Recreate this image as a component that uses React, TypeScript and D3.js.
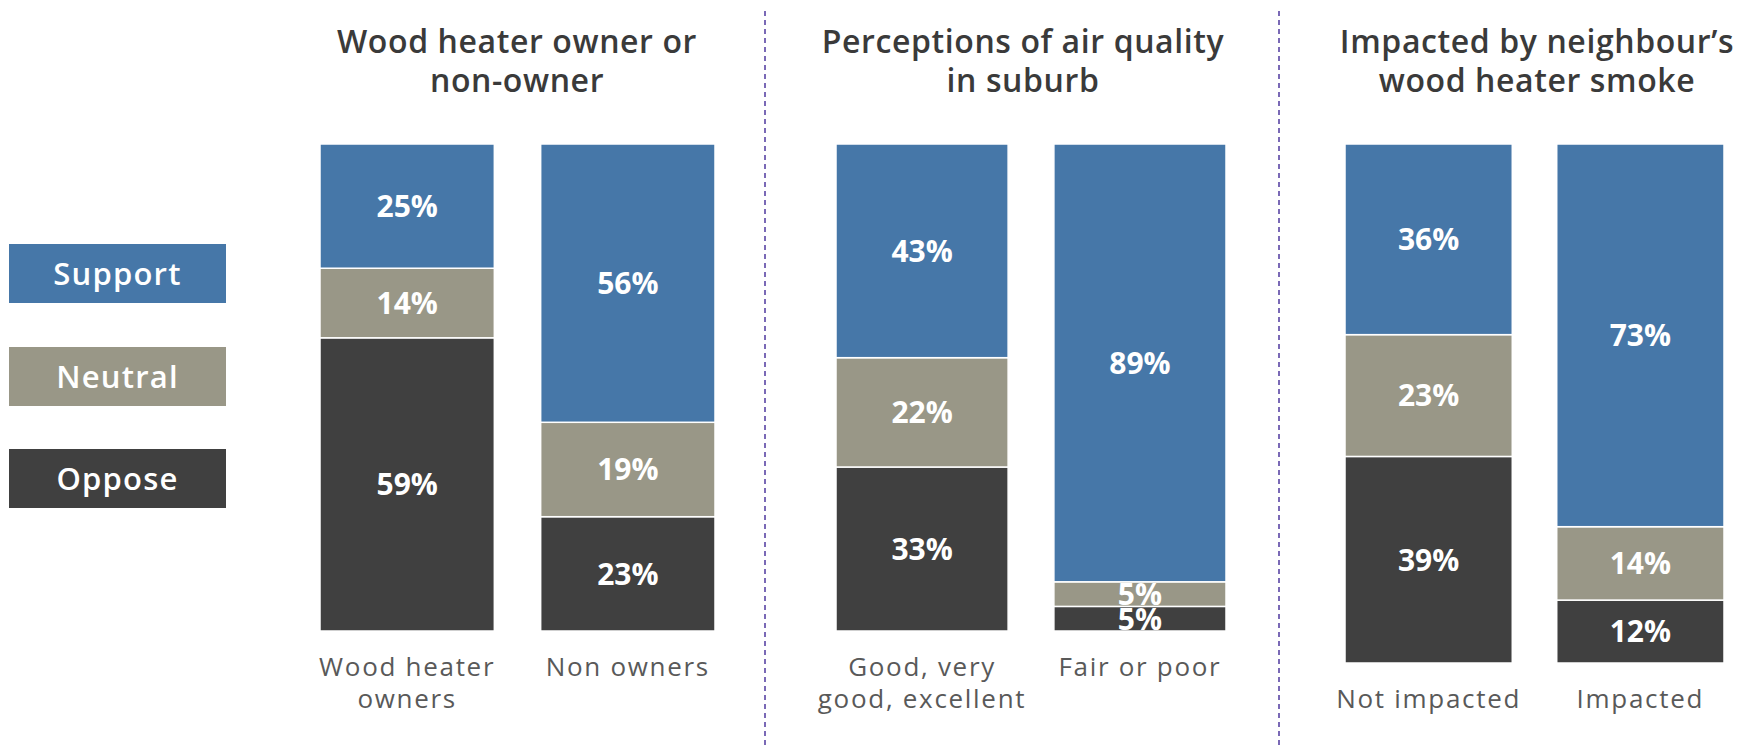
import React from "react";
import * as d3 from "d3";

const seriesNames = ["Support", "Neutral", "Oppose"];
const panelTitles = [
  ["Wood heater owner or", "non-owner"],
  ["Perceptions of air quality", "in suburb"],
  ["Impacted by neighbour’s", "wood heater smoke"],
];
const categories = [
  ["Wood heater owners", "Non owners"],
  ["Good, very good, excellent", "Fair or poor"],
  ["Not impacted", "Impacted"],
];
const categoryLines = [
  [["Wood heater", "owners"], ["Non owners"]],
  [["Good, very", "good, excellent"], ["Fair or poor"]],
  [["Not impacted"], ["Impacted"]],
];
const supportValues = [[25, 56], [43, 89], [36, 73]];
const neutralValues = [[14, 19], [22, 5], [23, 14]];
const opposeValues = [[59, 23], [33, 5], [39, 12]];

const COLORS: Record<string, string> = {
  Support: "#4677a8",
  Neutral: "#999787",
  Oppose: "#404040",
};

const W = 1761;
const H = 745;
const panels = [
  { x0: 320, x1: 715, top: 144, bottom: 631, titleX: 517 },
  { x0: 836, x1: 1226, top: 144, bottom: 631, titleX: 1023 },
  { x0: 1345, x1: 1724, top: 144, bottom: 663, titleX: 1537 },
];
const dividers = [765, 1279];
const legendY = [244, 347, 449];

const font = "'Open Sans', sans-serif";

export default function App() {
  return (
    <svg
      width={W}
      height={H}
      style={{ position: "absolute", left: 0, top: 0, background: "#fff" }}
    >
      {dividers.map((x, i) => (
        <line
          key={i}
          x1={x}
          x2={x}
          y1={11}
          y2={H}
          stroke="#7a69b6"
          strokeWidth={2}
          strokeDasharray="5 4"
        />
      ))}
      {seriesNames.map((s, i) => (
        <g key={s}>
          <rect x={9} y={legendY[i]} width={217} height={59} fill={COLORS[s]} />
          <text
            x={117.5}
            y={legendY[i] + 29.5}
            dy="0.36em"
            textAnchor="middle"
            fill="#fff"
            fontFamily={font}
            fontWeight={600}
            fontSize={31}
            letterSpacing={1.2}
          >
            {s}
          </text>
        </g>
      ))}
      {panels.map((p, pi) => {
        const rows = categories[pi].map((c, ci) => ({
          cat: c,
          Support: supportValues[pi][ci],
          Neutral: neutralValues[pi][ci],
          Oppose: opposeValues[pi][ci],
        }));
        const x = d3
          .scaleBand<string>()
          .domain(categories[pi])
          .range([p.x0, p.x1])
          .paddingInner(0.21)
          .paddingOuter(0);
        const y = d3.scaleLinear().domain([0, 1]).range([p.bottom, p.top]);
        const stack = d3
          .stack<any>()
          .keys(["Oppose", "Neutral", "Support"])
          .offset(d3.stackOffsetExpand);
        const layers = stack(rows);
        return (
          <g key={pi}>
            {panelTitles[pi].map((t, li) => (
              <text
                key={li}
                x={p.titleX}
                y={53 + li * 39}
                textAnchor="middle"
                fill="#3a3a3a"
                fontFamily={font}
                fontWeight={600}
                fontSize={32}
                letterSpacing={0.6}
              >
                {t}
              </text>
            ))}
            {layers.map((layer) =>
              layer.map((d, di) => {
                const key = layer.key;
                const bx = x(categories[pi][di])!;
                const yTop = y(d[1]);
                const yBot = y(d[0]);
                const val = (rows[di] as any)[key];
                return (
                  <g key={key + di}>
                    <rect
                      x={bx}
                      y={yTop}
                      width={x.bandwidth()}
                      height={yBot - yTop}
                      fill={COLORS[key]}
                      stroke="#fff"
                      strokeWidth={1.5}
                    />
                    <text
                      x={bx + x.bandwidth() / 2}
                      y={(yTop + yBot) / 2}
                      dy="0.36em"
                      textAnchor="middle"
                      fill="#fff"
                      fontFamily={font}
                      fontWeight={700}
                      fontSize={30}
                    >
                      {val}%
                    </text>
                  </g>
                );
              })
            )}
            {categoryLines[pi].map((lines, ci) =>
              lines.map((ln, li) => (
                <text
                  key={ci + "-" + li}
                  x={x(categories[pi][ci])! + x.bandwidth() / 2}
                  y={p.bottom + 45 + li * 32}
                  textAnchor="middle"
                  fill="#595959"
                  fontFamily={font}
                  fontSize={26}
                  letterSpacing={1.7}
                >
                  {ln}
                </text>
              ))
            )}
          </g>
        );
      })}
    </svg>
  );
}
